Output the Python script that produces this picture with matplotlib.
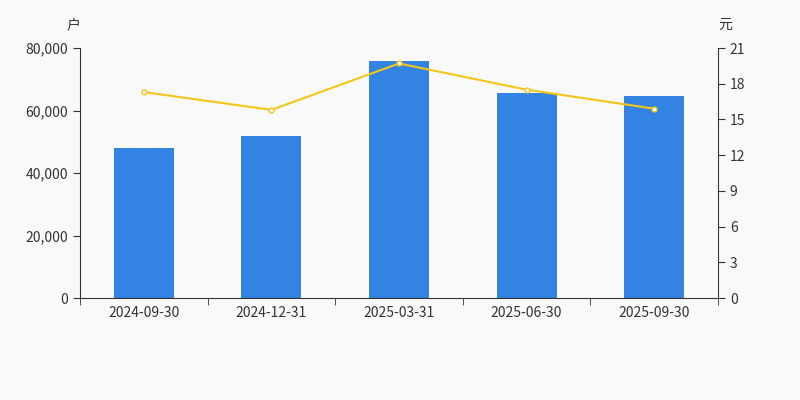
import matplotlib
matplotlib.use("Agg")
import matplotlib.pyplot as plt

plt.rcParams['font.family'] = ['Noto Sans CJK SC', 'DejaVu Sans']

dates = ["2024-09-30", "2024-12-31", "2025-03-31", "2025-06-30", "2025-09-30"]
holders = [48000, 52000, 76000, 65500, 64800]
price = [17.3, 15.8, 19.7, 17.5, 15.9]

fig = plt.figure(figsize=(8, 4), dpi=100, facecolor="#f9f9f9")
ax = fig.add_axes([0.1, 0.255, 0.7975, 0.625])
ax.set_facecolor("#f9f9f9")
x = list(range(len(dates)))
ax.bar(x, holders, width=0.47, color="#3283e2", zorder=2)
ax.set_xlim(-0.5, 4.5)
ax.set_ylim(0, 80000)
ax.set_yticks([0, 20000, 40000, 60000, 80000])
ax.set_yticklabels([f"{v:,}" for v in [0, 20000, 40000, 60000, 80000]])
ax.set_xticks(x)
ax.set_xticklabels(dates)
ax.set_xticks([-0.5, 0.5, 1.5, 2.5, 3.5, 4.5], minor=True)
ax.tick_params(axis='x', which='major', length=0, pad=6, labelsize=10, colors="#333333")
ax.tick_params(axis='x', which='minor', length=5, color="#333333")
ax.tick_params(axis='y', length=5, labelsize=10, colors="#333333", color="#333333")
for s in ["top", "right"]:
    ax.spines[s].set_visible(False)
for s in ["left", "bottom"]:
    ax.spines[s].set_color("#333333")

ax2 = ax.twinx()
ax2.plot(x, price, color="#f5c518", lw=1.5, marker="o", ms=3.5,
         mfc="white", mec="#f5c518", zorder=3)
ax2.set_ylim(0, 21)
ax2.set_yticks(range(0, 22, 3))
ax2.tick_params(axis='y', length=5, labelsize=10, colors="#333333", color="#333333")
for s in ["top", "left", "bottom"]:
    ax2.spines[s].set_visible(False)
ax2.spines["right"].set_color("#333333")

fig.text(0.1, 0.92, "户", ha="right", va="bottom", fontsize=10, color="#333333")
fig.text(0.8975, 0.92, "元", ha="left", va="bottom", fontsize=10, color="#333333")

fig.savefig("out.png", dpi=100, facecolor=fig.get_facecolor())
